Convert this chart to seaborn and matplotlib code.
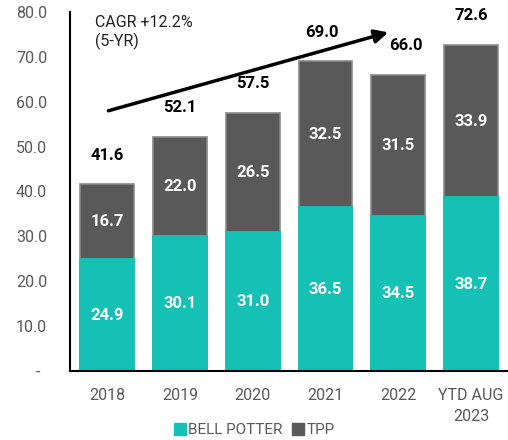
import matplotlib
matplotlib.use('Agg')
import matplotlib.pyplot as plt
import seaborn as sns
import pandas as pd
from matplotlib.patches import Patch

years = ['2018', '2019', '2020', '2021', '2022', 'YTD AUG\n2023']
bell_potter = [24.9, 30.1, 31.0, 36.5, 34.5, 38.7]
tpp = [16.7, 22.0, 26.5, 32.5, 31.5, 33.9]
totals = [41.6, 52.1, 57.5, 69.0, 66.0, 72.6]

teal = '#14C1B4'
grey = '#595959'

sns.set_style('white')
plt.rcParams['font.family'] = ['Roboto', 'DejaVu Sans']

df = pd.DataFrame({'year': years, 'bell': bell_potter, 'tpp': tpp, 'total': totals})

fig = plt.figure(figsize=(5.08, 4.40), dpi=100)
ax = fig.add_axes([0.138, 0.157, 0.862, 0.816])

# total bar in grey behind, bell potter part on top
sns.barplot(data=df, x='year', y='total', color=grey, saturation=1, width=0.74,
            edgecolor='#8a8a8a', linewidth=1.2, ax=ax)
sns.barplot(data=df, x='year', y='bell', color=teal, saturation=1, width=0.74,
            edgecolor=teal, linewidth=1.3, ax=ax)

for i in range(len(years)):
    ax.text(i, bell_potter[i] / 2, f'{bell_potter[i]:.1f}', ha='center', va='center',
            color='white', fontsize=12, fontweight='bold')
    ax.text(i, bell_potter[i] + tpp[i] / 2, f'{tpp[i]:.1f}', ha='center', va='center',
            color='white', fontsize=12, fontweight='bold')
    dx = 0.1 if i == 4 else (-0.05 if i == 3 else 0)
    ax.text(i + dx, totals[i] + 6.5, f'{totals[i]:.1f}', ha='center', va='center',
            color='black', fontsize=12, fontweight='bold')

# CAGR arrow
ax.annotate('', xy=(3.9, 75.6), xytext=(-0.02, 57.8),
            arrowprops=dict(arrowstyle='-|>', color='black', lw=2.5, mutation_scale=20))
ax.text(-0.17, 75.3, 'CAGR +12.2%\n(5-YR)', ha='left', va='center', fontsize=11.5,
        color='#222222', linespacing=1.2)

ax.set_ylim(0, 80)
ax.set_xlim(-0.51, 5.51)
ax.set_yticks(range(0, 81, 10))
ax.set_yticklabels(['-'] + [f'{v:.1f}' for v in range(10, 81, 10)])
ax.set_xlabel('')
ax.set_ylabel('')
ax.tick_params(axis='y', colors='#595959', labelsize=11.5, length=0, pad=16.5)
ax.tick_params(axis='x', colors='#595959', labelsize=11.5, length=0, pad=12)
for lbl in ax.get_xticklabels():
    lbl.set_color('#595959')
    lbl.set_linespacing(1.55)
for lbl in ax.get_yticklabels():
    lbl.set_color('#595959')
# the dash for zero sits further left, as in accounting format
ax.get_yticklabels()[0].set_x(-0.02)
ax.get_yticklabels()[0].set_horizontalalignment('center')

sns.despine(ax=ax, top=True, right=True)
ax.spines['left'].set_color('black')
ax.spines['bottom'].set_color('black')
ax.spines['left'].set_linewidth(1.5)
ax.spines['bottom'].set_linewidth(1.5)

handles = [Patch(color=teal, label='BELL POTTER'), Patch(color=grey, label='TPP')]
leg = fig.legend(handles=handles, loc='center', bbox_to_anchor=(0.5, 0.022), ncol=2,
                 frameon=False, handlelength=0.8, handleheight=0.8, handletextpad=0.15,
                 columnspacing=0.6, fontsize=11)
for t in leg.get_texts():
    t.set_color('#595959')

fig.savefig('out.png', dpi=100)
